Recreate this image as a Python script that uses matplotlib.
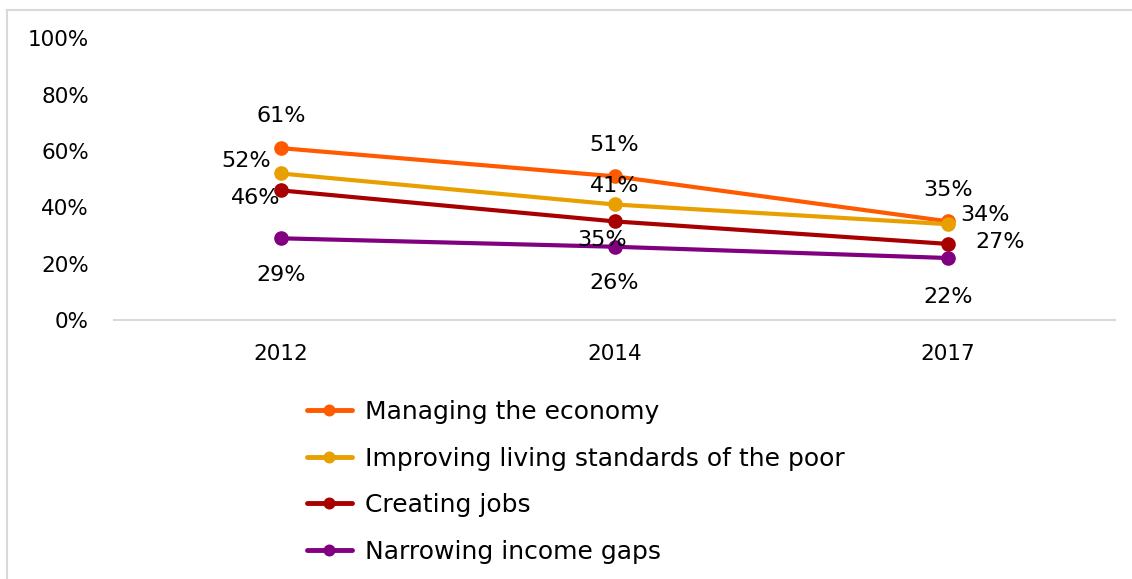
import matplotlib
matplotlib.use("Agg")
import matplotlib.pyplot as plt
from matplotlib.lines import Line2D

years = ["2012", "2014", "2017"]
series_names = [
    "Managing the economy",
    "Improving living standards of the poor",
    "Creating jobs",
    "Narrowing income gaps",
]
managing = [61, 51, 35]
improving = [52, 41, 34]
jobs = [46, 35, 27]
income_gaps = [29, 26, 22]
colors = ["#FF5A00", "#E8A000", "#A80000", "#800080"]

# label offsets in pixels, one per point
label_offsets = [
    [(0, 32), (0, 31), (0, 31)],
    [(-35, 12), (0, 18), (37, 9)],
    [(-25, -8), (-12, -19), (52, 2)],
    [(0, -37), (0, -36), (0, -39)],
]

plt.rcParams["font.family"] = "DejaVu Sans"
fig = plt.figure(figsize=(11.32, 5.79), dpi=100)
ax = fig.add_axes([0.1007, 0.4473, 0.8843, 0.4867])

x = range(len(years))
all_series = [managing, improving, jobs, income_gaps]
for vals, name, col, offs in zip(all_series, series_names, colors, label_offsets):
    frac = [v / 100 for v in vals]
    ax.plot(x, frac, color=col, lw=3, marker="o", ms=9.5, label=name,
            solid_capstyle="round")
    for xi, yi, v, off in zip(x, frac, vals, offs):
        ax.annotate(f"{v}%", (xi, yi), xytext=off, textcoords="offset pixels",
                    ha="center", va="center", fontsize=16, color="#000000")

ax.set_xlim(-0.5, 2.5)
ax.set_ylim(0, 1)
ax.set_xticks(list(x))
ax.set_xticklabels(years)
ax.set_yticks([0, 0.2, 0.4, 0.6, 0.8, 1.0])
ax.set_yticklabels(["0%", "20%", "40%", "60%", "80%", "100%"])
ax.tick_params(axis="both", length=0, labelsize=15.5)
ax.tick_params(axis="y", pad=18)
ax.tick_params(axis="x", pad=17)
for s in ["top", "right", "left"]:
    ax.spines[s].set_visible(False)
ax.spines["bottom"].set_color("#D9D9D9")
ax.spines["bottom"].set_linewidth(1.5)

leg = fig.legend(loc="upper left", bbox_to_anchor=(0.262, 0.326), frameon=False,
                 fontsize=18, handlelength=1.8, handletextpad=0.55,
                 labelspacing=0.9, borderaxespad=0, markerscale=0.8)
for h in leg.legend_handles:
    h.set_linewidth(3.5)

# light gray frame around the chart area
fig.add_artist(Line2D([7 / 1132, 7 / 1132], [0, 1 - 10 / 579], color="#D9D9D9",
                      lw=1.5, transform=fig.transFigure))
fig.add_artist(Line2D([7 / 1132, 1], [1 - 10 / 579, 1 - 10 / 579], color="#D9D9D9",
                      lw=1.5, transform=fig.transFigure))

fig.savefig("out.png", dpi=100)
